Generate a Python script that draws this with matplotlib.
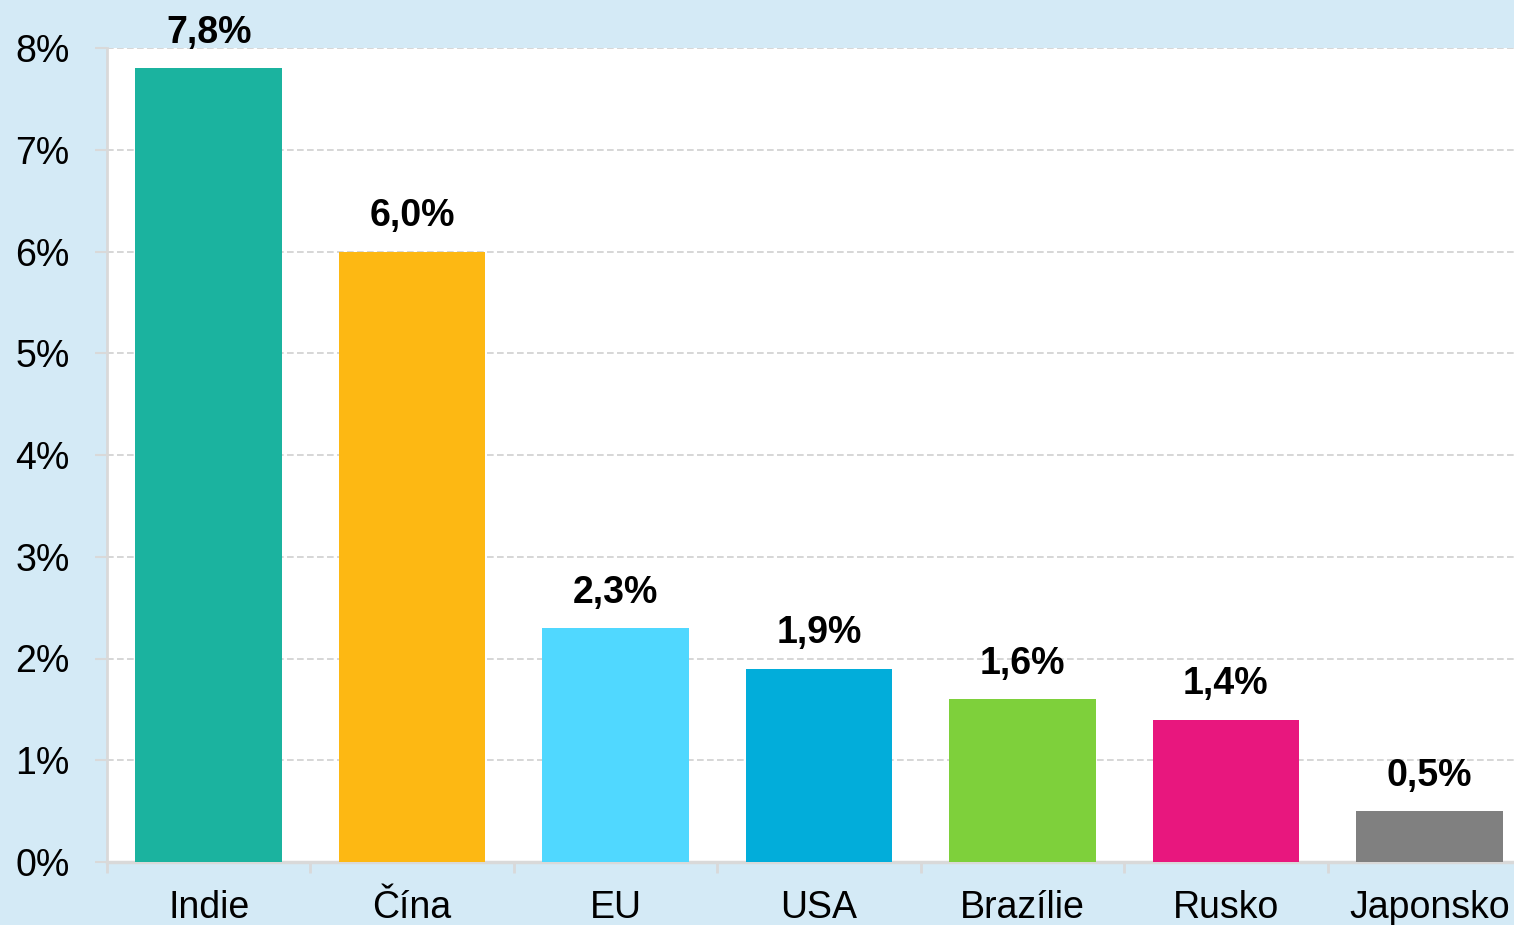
import matplotlib.pyplot as plt
from matplotlib.ticker import FixedLocator

plt.rcParams['font.family'] = ['Liberation Sans', 'DejaVu Sans']

# data
countries = ['Indie', 'Čína', 'EU', 'USA', 'Brazílie', 'Rusko', 'Japonsko']
growth = [7.8, 6.0, 2.3, 1.9, 1.6, 1.4, 0.5]
labels = ['7,8%', '6,0%', '2,3%', '1,9%', '1,6%', '1,4%', '0,5%']
colors = ['#1BB39F', '#FDB813', '#50D8FF', '#02ADDA', '#7ED03B', '#E8177E', '#808080']
yticks = [0, 1, 2, 3, 4, 5, 6, 7, 8]

bg = '#D4EAF6'
W, H = 1514, 925
fig = plt.figure(figsize=(W / 100, H / 100), dpi=100, facecolor=bg)
# plot area runs past the right edge of the picture
ax = fig.add_axes([107 / W, (H - 862) / H, 1424 / W, (862 - 48) / H])
ax.set_facecolor('white')

x = range(len(countries))
ax.bar(x, growth, width=0.72, color=colors, zorder=3)

for xi, v, lab in zip(x, growth, labels):
    ax.annotate(lab, (xi, v), xytext=(0, 12.5), textcoords='offset points',
                ha='center', va='bottom', fontsize=27, fontweight='bold',
                clip_on=False, zorder=4)

ax.set_xlim(-0.5, len(countries) - 0.5)
ax.set_ylim(0, 8)
ax.set_yticks(yticks)
ax.set_yticklabels([f'{t}%' for t in yticks], fontsize=27)
ax.set_xticks(list(x))
ax.set_xticklabels(countries, fontsize=27)
ax.xaxis.set_minor_locator(FixedLocator([i - 0.5 for i in range(len(countries) + 1)]))
ax.tick_params(axis='x', which='major', length=0, pad=20)
ax.tick_params(axis='x', which='minor', length=8, width=2, color='#D9D9D9')
ax.tick_params(axis='y', length=9, width=1.5, color='#D9D9D9', pad=18)

ax.grid(axis='y', color='#D0D0D0', linestyle=(0, (4, 2)), linewidth=1.2, zorder=0)
for s in ['top', 'right']:
    ax.spines[s].set_visible(False)
ax.spines['left'].set_color('#D9D9D9')
ax.spines['left'].set_linewidth(2)
ax.spines['bottom'].set_color('#D9D9D9')
ax.spines['bottom'].set_linewidth(2.5)

fig.savefig('out.png', dpi=100, facecolor=bg)
